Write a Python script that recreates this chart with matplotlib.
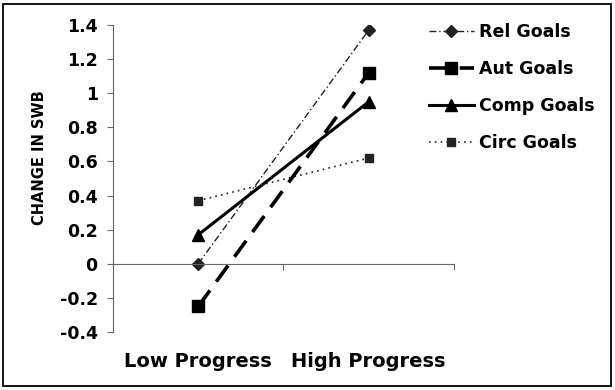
import matplotlib
matplotlib.use("Agg")
import matplotlib.pyplot as plt
from matplotlib.patches import Rectangle
from matplotlib.ticker import FuncFormatter

plt.rcParams["font.family"] = ["DejaVu Sans"]
plt.rcParams["font.weight"] = "bold"

categories = ["Low Progress", "High Progress"]
rel_goals = [0.00, 1.37]
aut_goals = [-0.25, 1.12]
comp_goals = [0.17, 0.95]
circ_goals = [0.37, 0.62]

fig = plt.figure(figsize=(6.15, 3.9), dpi=100)
ax = fig.add_axes([0.1837, 0.1487, 0.5545, 0.7872])

x = list(range(len(categories)))

ax.plot(x, rel_goals, color="#222222", linewidth=1, linestyle=(0, (5, 2, 1, 2)),
        marker="D", markersize=6, label="Rel Goals")
ax.plot(x, aut_goals, color="black", linewidth=2.6, linestyle=(0, (5.5, 3)),
        marker="s", markersize=8.5, label="Aut Goals")
ax.plot(x, comp_goals, color="black", linewidth=2.2, linestyle="-",
        marker="^", markersize=8, label="Comp Goals")
ax.plot(x, circ_goals, color="#222222", linewidth=1.2, linestyle=(0, (1, 2.5)),
        marker="s", markersize=6, label="Circ Goals")

ax.set_xlim(-0.5, 1.5)
ax.set_ylim(-0.4, 1.4)
ax.set_yticks([-0.4, -0.2, 0, 0.2, 0.4, 0.6, 0.8, 1.0, 1.2, 1.4])
ax.yaxis.set_major_formatter(FuncFormatter(lambda v, p: f"{round(v, 1):g}"))

for s in ["top", "right"]:
    ax.spines[s].set_visible(False)
ax.spines["bottom"].set_position(("data", 0))
ax.spines["bottom"].set_color("#666666")
ax.spines["left"].set_color("#666666")
ax.set_xticks([0.5, 1.5])
ax.set_xticklabels([])
ax.tick_params(axis="x", direction="out", length=4, color="#666666")
ax.tick_params(axis="y", direction="out", length=4, color="#666666",
               labelsize=12.5, pad=7)
for lbl in ax.get_yticklabels():
    lbl.set_fontweight("bold")

for i, name in enumerate(categories):
    ax.text(i, -0.095, name, transform=ax.get_xaxis_transform(),
            ha="center", va="center", fontsize=14, fontweight="bold")

fig.text(0.065, 0.595, "CHANGE IN SWB", rotation=90, ha="center", va="center",
         fontsize=10.5, fontweight="bold")

fig.legend(loc="upper left", bbox_to_anchor=(0.672, 0.98), frameon=False,
           handlelength=2.6, handletextpad=0.3, labelspacing=1.08,
           prop={"weight": "bold", "size": 12.5})

fig.patches.append(Rectangle((3 / 615, 4 / 390), 608 / 615, 382 / 390,
                             transform=fig.transFigure, fill=False,
                             edgecolor="black", linewidth=1.3))

fig.savefig("out.png", dpi=100)
